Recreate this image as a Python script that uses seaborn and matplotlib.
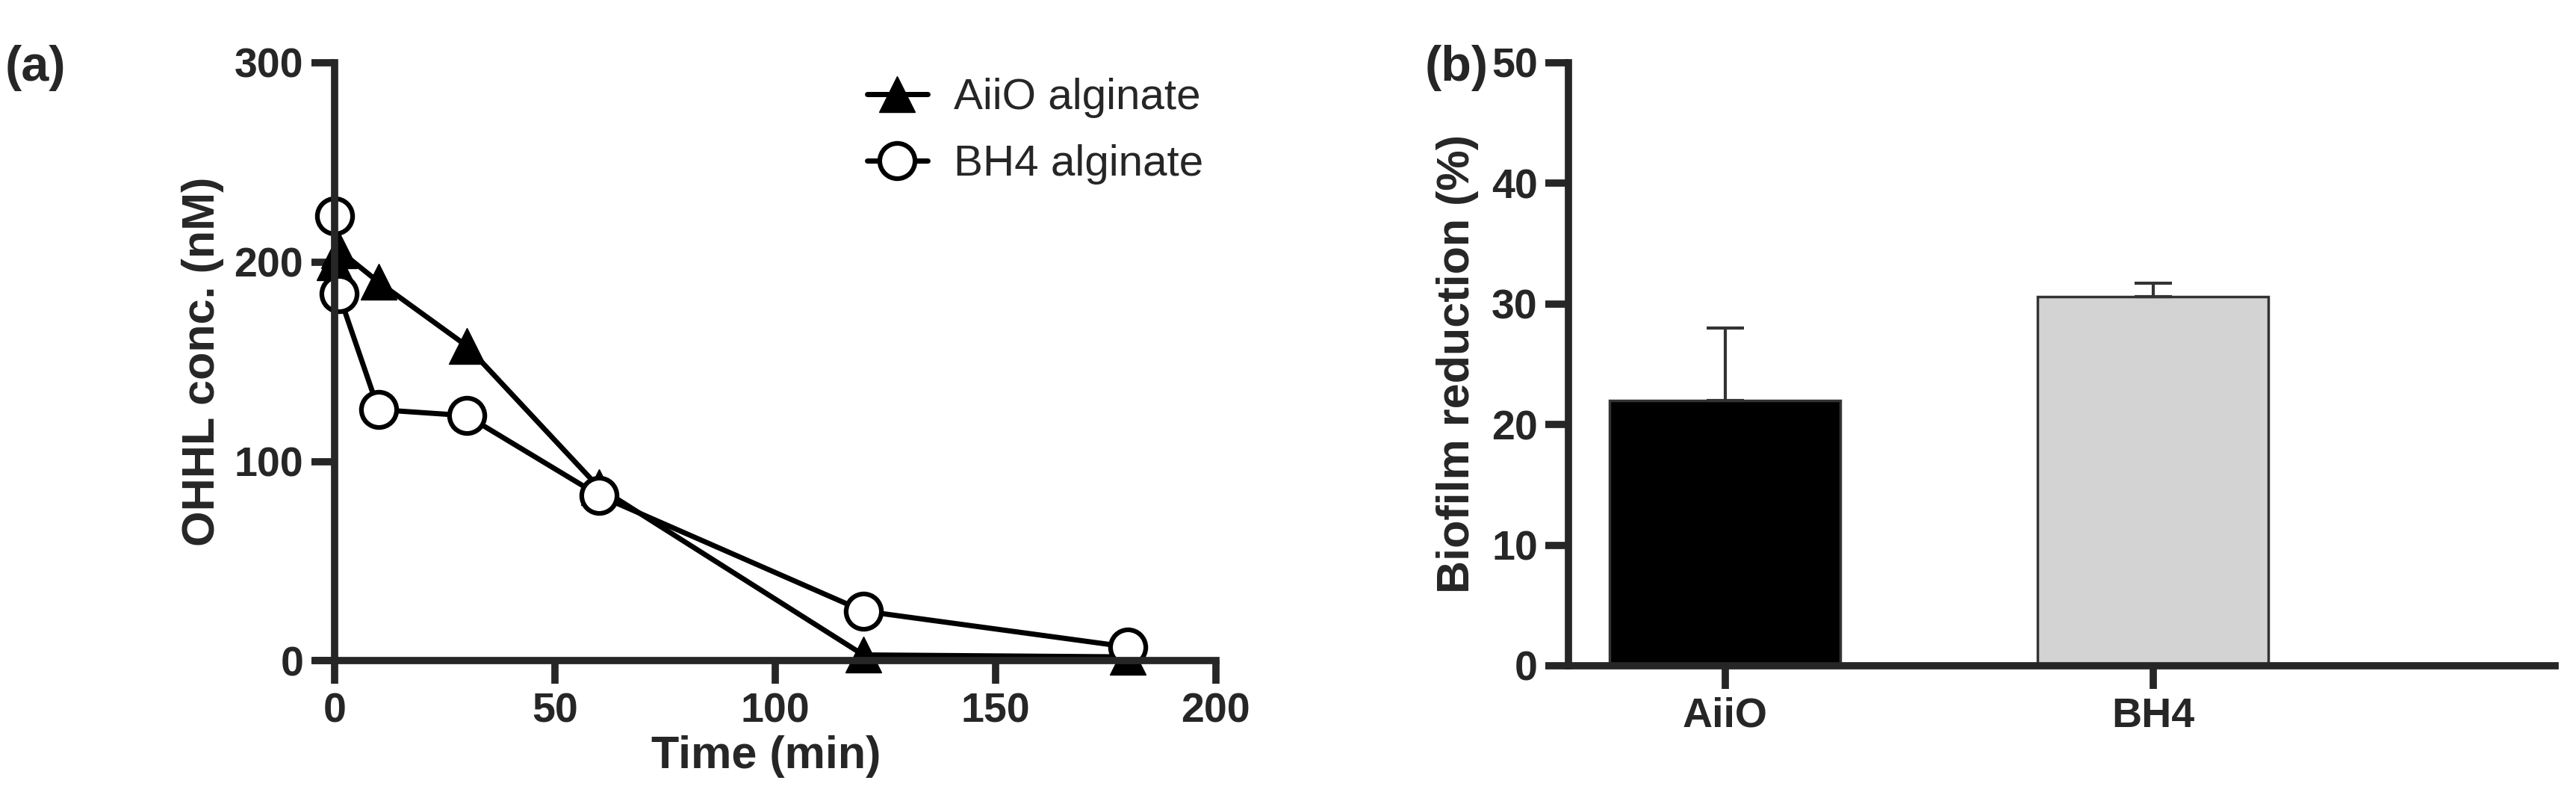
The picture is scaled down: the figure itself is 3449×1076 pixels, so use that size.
import matplotlib
matplotlib.use("Agg")
import matplotlib.pyplot as plt
import seaborn as sns
import pandas as pd

# ---- data ----
time_min = [0, 1, 10, 30, 60, 120, 180]
aiio_alginate = [200, 206, 190, 158, 87, 3, 2]
bh4_alginate = [223, 184, 126, 123, 83, 25, 7]

groups = ["AiiO", "BH4"]
biofilm_reduction = [22.0, 30.6]
biofilm_err = [6.0, 1.1]

sns.set_style("ticks")
plt.rcParams['font.family'] = ['Liberation Sans', 'DejaVu Sans']
plt.rcParams['font.weight'] = 'bold'

fig = plt.figure(figsize=(34.49, 10.76), dpi=100)
ax1 = fig.add_axes([0.123, 0.178, 0.349, 0.744])
ax2 = fig.add_axes([0.609, 0.172, 0.383, 0.75])

lw = 7
fs_tick = 40
fs_lab = 44
ms = 34

# ---- (a) ----
df = pd.DataFrame({
    "time": time_min * 2,
    "conc": aiio_alginate + bh4_alginate,
    "series": ["AiiO alginate"] * len(time_min) + ["BH4 alginate"] * len(time_min),
})
sns.lineplot(data=df, x="time", y="conc", hue="series", ax=ax1,
             palette=["black", "black"], linewidth=5, legend=False)
ax1.plot(time_min, aiio_alginate, linestyle='none', marker='^', ms=ms,
         color='black')
ax1.plot(time_min, bh4_alginate, linestyle='none', marker='o', ms=ms,
         mfc='white', mec='black', mew=4.5)
h = [plt.Line2D([], [], color='black', lw=5, marker='^', ms=ms),
     plt.Line2D([], [], color='black', lw=5, marker='o', ms=ms, mfc='white', mew=4.5)]
ax1.legend(h, ["AiiO alginate", "BH4 alginate"], frameon=False, loc='upper right',
           bbox_to_anchor=(1.03, 1.04), prop={'size': 42, 'weight': 'normal'},
           handlelength=1.4, labelspacing=0.6, handletextpad=0.6)
ax1.set_xlim(-4, 200)
ax1.set_ylim(0, 300)
ax1.set_xticks([0, 50, 100, 150, 200])
ax1.set_yticks([0, 100, 200, 300])
ax1.set_xlabel("Time (min)", fontsize=fs_lab, fontweight='bold', labelpad=4)
ax1.set_ylabel("OHHL conc. (nM)", fontsize=fs_lab, fontweight='bold', labelpad=10)
ax1.spines['left'].set_position(('data', 0))
for l in ax1.lines:
    l.set_clip_on(False)
fig.text(0.002, 0.9, "(a)", fontsize=48, fontweight='bold')

# ---- (b) ----
dfb = pd.DataFrame({"group": groups, "value": biofilm_reduction})
sns.barplot(data=dfb, x="group", y="value", hue="group",
            palette=["black", "#d3d3d3"], width=0.54, edgecolor="#333333",
            linewidth=2.5, ax=ax2, legend=False)
ax2.errorbar([0, 1], biofilm_reduction, yerr=[[0, 0], biofilm_err], fmt='none',
             ecolor='#333333', elinewidth=3, capsize=18, capthick=3)
ax2.set_xlim(-0.365, 1.94)
ax2.set_ylim(0, 50)
ax2.set_yticks([0, 10, 20, 30, 40, 50])
ax2.set_xlabel("")
ax2.set_ylabel("Biofilm reduction (%)", fontsize=fs_lab, fontweight='bold', labelpad=12)
fig.text(0.553, 0.9, "(b)", fontsize=48, fontweight='bold')

for ax in (ax1, ax2):
    sns.despine(ax=ax)
    for s in ('left', 'bottom'):
        ax.spines[s].set_linewidth(lw)
    ax.tick_params(width=lw, length=22, labelsize=fs_tick, pad=8)
    for t in ax.get_xticklabels() + ax.get_yticklabels():
        t.set_fontweight('bold')

fig.savefig("out.png", dpi=100)
